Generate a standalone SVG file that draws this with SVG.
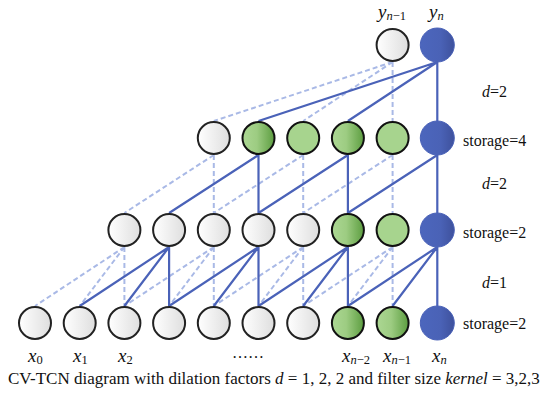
<svg xmlns="http://www.w3.org/2000/svg" width="550" height="399" viewBox="0 0 550 399">
<defs>
<linearGradient id="gW" x1="0" y1="0" x2="1" y2="0"><stop offset="0" stop-color="#ffffff"/><stop offset="1" stop-color="#dedede"/></linearGradient>
<linearGradient id="gG" x1="0" y1="0" x2="1" y2="0"><stop offset="0" stop-color="#acd793"/><stop offset="0.45" stop-color="#9dcc82"/><stop offset="1" stop-color="#5c9d40"/></linearGradient>
<linearGradient id="gB" x1="0" y1="0" x2="1" y2="0"><stop offset="0" stop-color="#4c66bd"/><stop offset="0.6" stop-color="#4a62b6"/><stop offset="1" stop-color="#3e519c"/></linearGradient>
<style>
.w{fill:url(#gW);stroke:#222;stroke-width:2}
.g{fill:url(#gG);stroke:#111;stroke-width:2}
.p{fill:#a7d48e;stroke:#111;stroke-width:2}
.b{fill:url(#gB);stroke:#4a62b8;stroke-width:1}
.s{stroke:#4a62b8;stroke-width:2.2;fill:none}
.d{stroke:#a9b9e6;stroke-width:2;stroke-dasharray:5,3;fill:none}
.lab{font-size:16px}
.var{font-size:19px;font-style:italic}
.sub{font-size:12.5px;font-style:normal}
.it{font-style:italic}
.cap{font-size:17px}
</style>
</defs>
<g id="connectors">
<path class="d" d="M124.4,247 L35,306 M124.4,247 L79.7,306 M124.4,247 L124.4,306
M213.8,247 L124.4,306 M213.8,247 L169.1,306 M213.8,247 L213.8,306
M303.2,247 L213.8,306 M303.2,247 L258.5,306 M303.2,247 L303.2,306
M392.6,247 L303.2,306 M392.6,247 L347.9,306 M392.6,247 L392.6,306"/>
<path class="d" d="M213.8,155 L124.4,213 M213.8,155 L213.8,213
M303.2,155 L213.8,213 M303.2,155 L303.2,213
M392.6,155 L303.2,213 M392.6,155 L392.6,213"/>
<path class="d" d="M392.6,62 L213.8,121 M392.6,62 L303.2,121 M392.6,62 L392.6,121"/>
<path class="s" d="M169.1,247 L79.7,306 M169.1,247 L124.4,306 M169.1,247 L169.1,306
M258.5,247 L169.1,306 M258.5,247 L213.8,306 M258.5,247 L258.5,306
M347.9,247 L258.5,306 M347.9,247 L303.2,306 M347.9,247 L347.9,306
M437.3,247 L347.9,306 M437.3,247 L392.6,306 M437.3,247 L437.3,306"/>
<path class="s" d="M258.5,155 L169.1,213 M258.5,155 L258.5,213
M347.9,155 L258.5,213 M347.9,155 L347.9,213
M437.3,155 L347.9,213 M437.3,155 L437.3,213"/>
<path class="s" d="M437.3,62 L258.5,121 M437.3,62 L347.9,121 M437.3,62 L437.3,121"/>
</g>
<g id="row0">
<circle id="n0_0" class="w" cx="35" cy="323" r="16"/>
<circle id="n0_1" class="w" cx="79.7" cy="323" r="16"/>
<circle id="n0_2" class="w" cx="124.4" cy="323" r="16"/>
<circle id="n0_3" class="w" cx="169.1" cy="323" r="16"/>
<circle id="n0_4" class="w" cx="213.8" cy="323" r="16"/>
<circle id="n0_5" class="w" cx="258.5" cy="323" r="16"/>
<circle id="n0_6" class="w" cx="303.2" cy="323" r="16"/>
<circle id="n0_7" class="g" cx="347.9" cy="323" r="16"/>
<circle id="n0_8" class="g" cx="392.6" cy="323" r="16"/>
<circle id="n0_9" class="b" cx="437.3" cy="323" r="17"/>
</g>
<g id="row1">
<circle id="n1_2" class="w" cx="124.4" cy="230" r="16"/>
<circle id="n1_3" class="w" cx="169.1" cy="230" r="16"/>
<circle id="n1_4" class="w" cx="213.8" cy="230" r="16"/>
<circle id="n1_5" class="w" cx="258.5" cy="230" r="16"/>
<circle id="n1_6" class="w" cx="303.2" cy="230" r="16"/>
<circle id="n1_7" class="g" cx="347.9" cy="230" r="16"/>
<circle id="n1_8" class="p" cx="392.6" cy="230" r="16"/>
<circle id="n1_9" class="b" cx="437.3" cy="230" r="17"/>
</g>
<g id="row2">
<circle id="n2_4" class="w" cx="213.8" cy="138" r="16"/>
<circle id="n2_5" class="g" cx="258.5" cy="138" r="16"/>
<circle id="n2_6" class="p" cx="303.2" cy="138" r="16"/>
<circle id="n2_7" class="g" cx="347.9" cy="138" r="16"/>
<circle id="n2_8" class="p" cx="392.6" cy="138" r="16"/>
<circle id="n2_9" class="b" cx="437.3" cy="138" r="17"/>
</g>
<g id="row3">
<circle id="n3_8" class="w" cx="392.6" cy="45" r="16"/>
<circle id="n3_9" class="b" cx="437.3" cy="45" r="17"/>
</g>
<g id="labels" fill="#111">
<text font-family="Liberation Serif" class="var" x="378" y="18">y<tspan class="sub" dy="2"><tspan class="it">n</tspan>−1</tspan></text>
<text font-family="Liberation Serif" class="var" x="429" y="18">y<tspan class="sub it" dy="2">n</tspan></text>
<text font-family="Liberation Serif" class="lab" x="482" y="97"><tspan class="it">d</tspan>=2</text>
<text font-family="Liberation Serif" class="lab" x="463" y="146">storage=4</text>
<text font-family="Liberation Serif" class="lab" x="482" y="189"><tspan class="it">d</tspan>=2</text>
<text font-family="Liberation Serif" class="lab" x="463" y="238">storage=2</text>
<text font-family="Liberation Serif" class="lab" x="482" y="288"><tspan class="it">d</tspan>=1</text>
<text font-family="Liberation Serif" class="lab" x="463" y="329">storage=2</text>
<text font-family="Liberation Serif" class="var" x="28" y="362">x<tspan class="sub" dy="2">0</tspan></text>
<text font-family="Liberation Serif" class="var" x="73" y="362">x<tspan class="sub" dy="2">1</tspan></text>
<text font-family="Liberation Serif" class="var" x="118" y="362">x<tspan class="sub" dy="2">2</tspan></text>
<text font-family="Liberation Serif" class="lab" x="232" y="358">……</text>
<text font-family="Liberation Serif" class="var" x="342" y="362">x<tspan class="sub" dy="2"><tspan class="it">n</tspan>−2</tspan></text>
<text font-family="Liberation Serif" class="var" x="383" y="362">x<tspan class="sub" dy="2"><tspan class="it">n</tspan>−1</tspan></text>
<text font-family="Liberation Serif" class="var" x="432" y="362">x<tspan class="sub it" dy="2">n</tspan></text>
<text font-family="Liberation Serif" class="cap" x="8" y="384">CV-TCN diagram with dilation factors <tspan class="it">d</tspan> = 1, 2, 2 and filter size <tspan class="it">kernel</tspan> = 3,2,3</text>
</g>
</svg>
